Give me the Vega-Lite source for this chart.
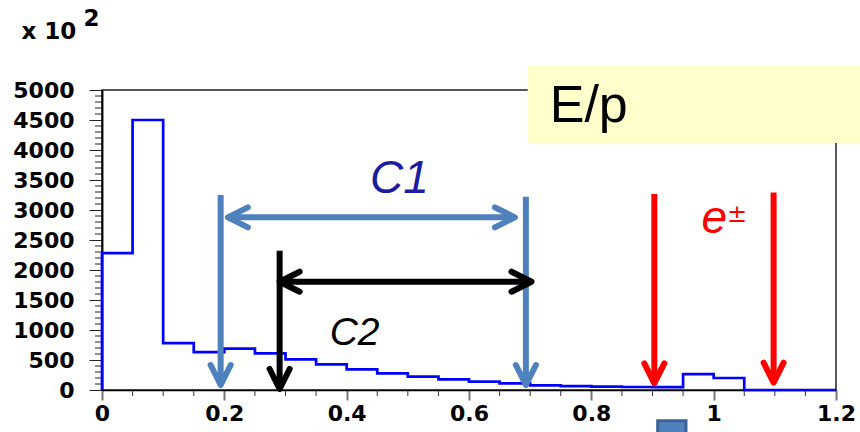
{
  "$schema": "https://vega.github.io/schema/vega-lite/v6.json",
  "width": 734,
  "height": 300,
  "autosize": {"type": "none"},
  "padding": {"left": 102, "top": 90, "right": 24, "bottom": 42},
  "background": "white",
  "config": {
    "view": {"stroke": "#222222", "strokeWidth": 1.5},
    "axis": {
      "title": null,
      "grid": false,
      "labelFont": "DejaVu Sans",
      "labelFontSize": 22,
      "labelFontWeight": "bold",
      "labelColor": "#000000",
      "labelOverlap": false,
      "labelFlush": false,
      "domainColor": "#000000",
      "domainWidth": 1.5
    },
    "axisX": {"tickSize": 10, "tickColor": "#777777", "tickWidth": 2, "labelPadding": 3},
    "axisY": {"tickSize": 13, "tickColor": "#222222", "labelPadding": 15}
  },
  "resolve": {"axis": {"y": "independent"}},
  "datasets": {
    "hist": [
      {"x": 0, "count": 0},
      {"x": 0, "count": 2280},
      {"x": 0.05, "count": 4500},
      {"x": 0.1, "count": 780},
      {"x": 0.15, "count": 630},
      {"x": 0.2, "count": 690},
      {"x": 0.25, "count": 612},
      {"x": 0.3, "count": 510},
      {"x": 0.35, "count": 428},
      {"x": 0.4, "count": 344},
      {"x": 0.45, "count": 278},
      {"x": 0.5, "count": 222},
      {"x": 0.55, "count": 178},
      {"x": 0.6, "count": 139},
      {"x": 0.65, "count": 111},
      {"x": 0.7, "count": 78},
      {"x": 0.75, "count": 65},
      {"x": 0.8, "count": 55},
      {"x": 0.85, "count": 50},
      {"x": 0.9, "count": 48},
      {"x": 0.95, "count": 265},
      {"x": 1.0, "count": 200},
      {"x": 1.05, "count": 0},
      {"x": 1.2, "count": 0}
    ],
    "xminor": [
      {"v": 0.05}, {"v": 0.1}, {"v": 0.15}, {"v": 0.25}, {"v": 0.3}, {"v": 0.35},
      {"v": 0.45}, {"v": 0.5}, {"v": 0.55}, {"v": 0.65}, {"v": 0.7}, {"v": 0.75},
      {"v": 0.85}, {"v": 0.9}, {"v": 0.95}, {"v": 1.05}, {"v": 1.1}, {"v": 1.15}
    ],
    "yminor": [
      {"v": 100}, {"v": 200}, {"v": 300}, {"v": 400},
      {"v": 600}, {"v": 700}, {"v": 800}, {"v": 900},
      {"v": 1100}, {"v": 1200}, {"v": 1300}, {"v": 1400},
      {"v": 1600}, {"v": 1700}, {"v": 1800}, {"v": 1900},
      {"v": 2100}, {"v": 2200}, {"v": 2300}, {"v": 2400},
      {"v": 2600}, {"v": 2700}, {"v": 2800}, {"v": 2900},
      {"v": 3100}, {"v": 3200}, {"v": 3300}, {"v": 3400},
      {"v": 3600}, {"v": 3700}, {"v": 3800}, {"v": 3900},
      {"v": 4100}, {"v": 4200}, {"v": 4300}, {"v": 4400},
      {"v": 4600}, {"v": 4700}, {"v": 4800}, {"v": 4900}
    ],
    "shafts": [
      {"cut": "C1", "x": 0.194, "y": 3250, "x2": 0.194, "y2": 83},
      {"cut": "C1", "x": 0.693, "y": 3220, "x2": 0.693, "y2": 83},
      {"cut": "C1", "x": 0.2058, "y": 2878, "x2": 0.675, "y2": 2878},
      {"cut": "C2", "x": 0.2904, "y": 2322, "x2": 0.2904, "y2": 17},
      {"cut": "C2", "x": 0.2904, "y": 1805, "x2": 0.7022, "y2": 1805},
      {"cut": "e", "x": 0.903, "y": 3267, "x2": 0.903, "y2": 111},
      {"cut": "e", "x": 1.098, "y": 3290, "x2": 1.098, "y2": 122}
    ],
    "heads": [
      {"cut": "C1", "dir": "down", "x": 0.194, "y": 83},
      {"cut": "C1", "dir": "down", "x": 0.693, "y": 83},
      {"cut": "C1", "dir": "left", "x": 0.2058, "y": 2878},
      {"cut": "C1", "dir": "right", "x": 0.675, "y": 2878},
      {"cut": "C2", "dir": "down", "x": 0.2904, "y": 17},
      {"cut": "C2", "dir": "left", "x": 0.2904, "y": 1805},
      {"cut": "C2", "dir": "right", "x": 0.7022, "y": 1805},
      {"cut": "e", "dir": "down", "x": 0.903, "y": 111},
      {"cut": "e", "dir": "down", "x": 1.098, "y": 122}
    ]
  },
  "layer": [
    {
      "data": {"values": [{"x": 0.696, "x2": 1.245, "y": 5400, "y2": 4117}]},
      "mark": {"type": "rect", "color": "#FFFFCC"},
      "encoding": {
        "x": {"field": "x", "type": "quantitative", "scale": {"domain": [0, 1.2], "nice": false, "zero": false},
          "axis": {"values": [0, 0.2, 0.4, 0.6, 0.8, 1, 1.2], "format": "~g"}},
        "x2": {"field": "x2"},
        "y": {"field": "y", "type": "quantitative", "scale": {"domain": [0, 5000], "nice": false, "zero": false},
          "axis": {"orient": "left", "values": [0, 1000, 2000, 3000, 4000, 5000], "format": "d"}},
        "y2": {"field": "y2"}
      }
    },
    {
      "data": {"name": "xminor"},
      "mark": {"type": "rule", "color": "#333333", "strokeWidth": 1, "y2Offset": 6},
      "encoding": {
        "x": {"field": "v", "type": "quantitative", "scale": {"domain": [0, 1.2], "nice": false, "zero": false}},
        "y": {"datum": 0, "type": "quantitative", "scale": {"domain": [0, 5000], "nice": false, "zero": false}, "axis": null},
        "y2": {"datum": 0}
      }
    },
    {
      "data": {"name": "yminor"},
      "mark": {"type": "rule", "color": "#222222", "strokeWidth": 1, "xOffset": -7},
      "encoding": {
        "x": {"datum": 0, "type": "quantitative", "scale": {"domain": [0, 1.2], "nice": false, "zero": false}},
        "x2": {"datum": 0},
        "y": {"field": "v", "type": "quantitative", "scale": {"domain": [0, 5000], "nice": false, "zero": false}, "axis": null}
      }
    },
    {
      "data": {"name": "hist"},
      "mark": {"type": "line", "interpolate": "step-after", "color": "#0000FF", "strokeWidth": 2.7},
      "encoding": {
        "x": {"field": "x", "type": "quantitative", "scale": {"domain": [0, 1.2], "nice": false, "zero": false}},
        "y": {"field": "count", "type": "quantitative", "scale": {"domain": [0, 5000], "nice": false, "zero": false},
          "axis": {"orient": "left", "values": [500, 1500, 2500, 3500, 4500], "format": "d"}},
        "order": {"value": null}
      }
    },
    {
      "data": {"name": "shafts"},
      "mark": {"type": "rule", "strokeWidth": 6},
      "encoding": {
        "x": {"field": "x", "type": "quantitative", "scale": {"domain": [0, 1.2], "nice": false, "zero": false}},
        "y": {"field": "y", "type": "quantitative", "scale": {"domain": [0, 5000], "nice": false, "zero": false}, "axis": null},
        "x2": {"field": "x2"},
        "y2": {"field": "y2"},
        "color": {"field": "cut", "type": "nominal", "scale": {"domain": ["C1", "C2", "e"], "range": ["#4F81BD", "#000000", "#FF0000"]}, "legend": null}
      }
    },
    {
      "data": {"name": "heads"},
      "mark": {"type": "point", "filled": false, "strokeWidth": 6, "strokeCap": "round", "strokeJoin": "round", "size": 400, "opacity": 1},
      "encoding": {
        "x": {"field": "x", "type": "quantitative", "scale": {"domain": [0, 1.2], "nice": false, "zero": false}},
        "y": {"field": "y", "type": "quantitative", "scale": {"domain": [0, 5000], "nice": false, "zero": false}, "axis": null},
        "shape": {"field": "dir", "type": "nominal", "scale": {"domain": ["down", "left", "right"], "range": ["M -1 -2 L 0 0 L 1 -2", "M 2 -1 L 0 0 L 2 1", "M -2 -1 L 0 0 L -2 1"]}, "legend": null},
        "color": {"field": "cut", "type": "nominal", "scale": {"domain": ["C1", "C2", "e"], "range": ["#4F81BD", "#000000", "#FF0000"]}, "legend": null}
      }
    },
    {
      "data": {"values": [{"x": 0.9316, "y": -750}]},
      "mark": {"type": "point", "shape": "square", "filled": true, "size": 800, "fill": "#4F81BD", "stroke": "#3B6296", "strokeWidth": 3, "opacity": 1},
      "encoding": {
        "x": {"field": "x", "type": "quantitative", "scale": {"domain": [0, 1.2], "nice": false, "zero": false}},
        "y": {"field": "y", "type": "quantitative", "scale": {"domain": [0, 5000], "nice": false, "zero": false}, "axis": null}
      }
    },
    {
      "data": {"values": [{"x": 0.732, "y": 4467, "label": "E/p"}]},
      "mark": {"type": "text", "align": "left", "baseline": "alphabetic", "font": "Liberation Sans", "fontSize": 52, "color": "#000000"},
      "encoding": {
        "x": {"field": "x", "type": "quantitative", "scale": {"domain": [0, 1.2], "nice": false, "zero": false}},
        "y": {"field": "y", "type": "quantitative", "scale": {"domain": [0, 5000], "nice": false, "zero": false}, "axis": null},
        "text": {"field": "label"}
      }
    },
    {
      "data": {"values": [{"x": 0.4862, "y": 3288, "label": "C1"}]},
      "mark": {"type": "text", "align": "center", "baseline": "alphabetic", "font": "Liberation Sans", "fontSize": 46, "fontStyle": "italic", "color": "#1C1CA0"},
      "encoding": {
        "x": {"field": "x", "type": "quantitative", "scale": {"domain": [0, 1.2], "nice": false, "zero": false}},
        "y": {"field": "y", "type": "quantitative", "scale": {"domain": [0, 5000], "nice": false, "zero": false}, "axis": null},
        "text": {"field": "label"}
      }
    },
    {
      "data": {"values": [{"x": 0.413, "y": 750, "label": "C2"}]},
      "mark": {"type": "text", "align": "center", "baseline": "alphabetic", "font": "Liberation Sans", "fontSize": 39, "fontStyle": "italic", "color": "#000000"},
      "encoding": {
        "x": {"field": "x", "type": "quantitative", "scale": {"domain": [0, 1.2], "nice": false, "zero": false}},
        "y": {"field": "y", "type": "quantitative", "scale": {"domain": [0, 5000], "nice": false, "zero": false}, "axis": null},
        "text": {"field": "label"}
      }
    },
    {
      "data": {"values": [{"x": 0.98, "y": 2617, "label": "e"}]},
      "mark": {"type": "text", "align": "left", "baseline": "alphabetic", "font": "Liberation Sans", "fontSize": 46, "fontStyle": "italic", "color": "#FF0000"},
      "encoding": {
        "x": {"field": "x", "type": "quantitative", "scale": {"domain": [0, 1.2], "nice": false, "zero": false}},
        "y": {"field": "y", "type": "quantitative", "scale": {"domain": [0, 5000], "nice": false, "zero": false}, "axis": null},
        "text": {"field": "label"}
      }
    },
    {
      "data": {"values": [{"x": 1.0217, "y": 2800, "label": "±"}]},
      "mark": {"type": "text", "align": "left", "baseline": "alphabetic", "font": "DejaVu Sans", "fontSize": 24, "color": "#FF0000"},
      "encoding": {
        "x": {"field": "x", "type": "quantitative", "scale": {"domain": [0, 1.2], "nice": false, "zero": false}},
        "y": {"field": "y", "type": "quantitative", "scale": {"domain": [0, 5000], "nice": false, "zero": false}, "axis": null},
        "text": {"field": "label"}
      }
    },
    {
      "data": {"values": [{"x": -0.1317, "y": 5850, "label": "x 10"}, {"x": -0.0303, "y": 6067, "label": "2"}]},
      "mark": {"type": "text", "align": "left", "baseline": "alphabetic", "font": "DejaVu Sans", "fontSize": 23, "fontWeight": "bold", "color": "#000000"},
      "encoding": {
        "x": {"field": "x", "type": "quantitative", "scale": {"domain": [0, 1.2], "nice": false, "zero": false}},
        "y": {"field": "y", "type": "quantitative", "scale": {"domain": [0, 5000], "nice": false, "zero": false}, "axis": null},
        "text": {"field": "label"}
      }
    }
  ]
}
